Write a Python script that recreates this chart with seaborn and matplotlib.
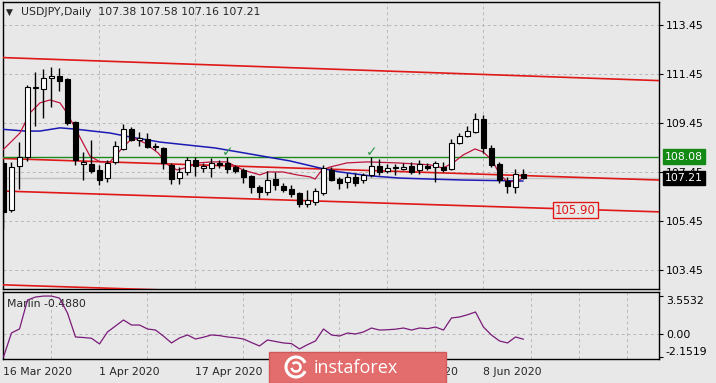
"""USDJPY daily candles with MA lines, channel and the Marlin oscillator panel."""

import matplotlib
matplotlib.use("Agg")
import matplotlib.pyplot as plt
import matplotlib.patches as mpatches
import numpy as np
import seaborn as sns

# ---- data --------------------------------------------------------------
opens = [107.82, 105.90, 107.69, 108.06, 110.87, 110.84, 111.29, 111.37, 111.25, 109.49,
         107.78, 107.78, 107.53, 107.20, 107.86, 108.39, 109.20, 108.76, 108.80, 108.51,
         108.43, 107.74, 107.20, 107.45, 107.94, 107.61, 107.61, 107.82, 107.82, 107.65,
         107.53, 107.29, 106.84, 106.63, 107.16, 106.88, 106.76, 106.59, 106.14, 106.22,
         106.59, 107.53, 107.16, 107.04, 107.25, 107.12, 107.33, 107.69, 107.49, 107.61,
         107.57, 107.69, 107.53, 107.69, 107.65, 107.65, 107.57, 108.63, 108.92, 109.08,
         109.61, 108.43, 107.78, 107.08, 106.84, 107.38]
highs = [107.95, 107.85, 108.67, 111.00, 111.53, 111.65, 111.73, 111.69, 111.30, 109.55,
         108.27, 108.76, 107.74, 107.94, 108.70, 109.41, 109.29, 109.08, 109.04, 108.63,
         108.47, 107.82, 107.65, 108.06, 108.06, 107.82, 108.00, 107.94, 108.06, 107.74,
         107.61, 107.33, 106.92, 107.49, 107.45, 107.00, 106.92, 106.63, 106.72, 106.80,
         107.74, 107.65, 107.25, 107.41, 107.41, 107.41, 108.06, 107.98, 107.78, 107.78,
         107.82, 107.86, 107.94, 107.82, 107.90, 107.86, 108.80, 109.04, 109.33, 109.86,
         109.78, 108.55, 107.86, 107.25, 107.57, 107.58]
lows = [105.10, 105.80, 106.76, 107.90, 109.33, 109.65, 110.10, 110.76, 109.37, 107.74,
        107.12, 107.41, 106.92, 107.04, 107.78, 108.35, 108.70, 108.51, 108.43, 108.35,
        107.57, 106.96, 106.96, 107.33, 107.29, 107.45, 107.25, 107.61, 107.41, 107.41,
        107.00, 106.60, 106.39, 106.51, 106.72, 106.63, 106.43, 106.02, 106.02, 106.10,
        106.50, 107.10, 106.76, 106.80, 106.88, 107.00, 107.25, 107.33, 107.41, 107.33,
        107.53, 107.37, 107.37, 107.53, 107.04, 107.45, 107.53, 108.59, 108.88, 109.04,
        108.22, 107.65, 107.00, 106.59, 106.59, 107.16]
closes = [105.80, 107.65, 108.06, 110.92, 110.92, 111.29, 111.37, 111.16, 109.45, 107.94,
          107.86, 107.49, 107.12, 107.82, 108.51, 109.20, 108.76, 108.85, 108.47, 108.47,
          107.82, 107.16, 107.45, 107.94, 107.69, 107.69, 107.82, 107.74, 107.57, 107.49,
          107.25, 106.84, 106.63, 107.12, 106.92, 106.72, 106.55, 106.14, 106.31, 106.67,
          107.61, 107.12, 107.00, 107.25, 107.00, 107.33, 107.69, 107.45, 107.61, 107.65,
          107.65, 107.45, 107.78, 107.61, 107.82, 107.53, 108.63, 108.92, 109.12, 109.61,
          108.43, 107.74, 107.12, 106.88, 107.37, 107.21]

# fast MA (crimson) and slow MA (blue) as traced vertices: bar position, price
fast_ma_x = [-0.44, 2.06, 3.31, 4.56, 5.81, 7.06, 7.94, 8.94, 9.94, 10.81, 12.06, 13.31,
             15.19, 16.19, 17.69, 19.31, 20.56, 21.69, 23.06, 24.31, 26.06, 27.94, 29.94,
             32.06, 33.06, 34.94, 36.69, 38.31, 38.94, 39.81, 40.81, 42.94, 45.44, 49.19,
             53.31, 54.94, 56.19, 57.44, 58.94, 59.94, 61.06, 62.06, 63.06, 64.19, 64.94]
fast_ma_y = [108.23, 109.04, 109.86, 110.27, 110.39, 110.27, 109.86, 109.25, 108.63, 108.10,
             107.86, 107.86, 108.55, 108.84, 108.63, 108.23, 107.74, 107.53, 107.65, 107.82,
             107.86, 107.86, 107.53, 107.33, 107.45, 107.45, 107.33, 107.25, 107.16, 107.53,
             107.65, 107.82, 107.86, 107.82, 107.74, 107.61, 107.82, 108.14, 108.39, 108.27,
             107.94, 107.33, 107.04, 107.08, 107.21]
slow_ma_x = [-0.44, 2.69, 4.56, 7.06, 8.94, 13.31, 15.81, 19.56, 26.44, 30.19, 35.81, 39.56,
             42.06, 45.81, 49.56, 53.31, 57.44, 64.94]
slow_ma_y = [109.20, 109.12, 109.12, 109.25, 109.20, 109.04, 108.88, 108.67, 108.43, 108.22,
             107.90, 107.61, 107.45, 107.29, 107.20, 107.16, 107.12, 107.08]

# channel lines: price at the left edge and at the right edge of the panel
channel_left = [112.12, 108.00, 106.67, 102.84]
channel_right = [111.18, 107.12, 105.82, 101.98]
channel_label = "105.90"
level_price = 108.08
last_price = 107.21
check_bars = [28, 46]
check_price = 108.27

marlin = [-2.15, 0.10, 0.47, 3.18, 3.46, 3.55, 3.55, 3.36, 1.96, -0.28,
          -0.33, -0.40, -0.93, 0.19, 0.75, 1.31, 0.84, 0.84, 0.47, 0.37,
          -0.20, -0.84, -0.37, -0.09, -0.47, -0.30, -0.09, -0.15, -0.28, -0.35,
          -0.47, -0.80, -1.12, -0.56, -0.70, -0.84, -0.90, -1.40, -1.00, -0.65,
          0.47, -0.09, -0.19, 0.09, 0.00, 0.19, 0.56, 0.37, 0.40, 0.45,
          0.56, 0.37, 0.56, 0.50, 0.65, 0.37, 1.50, 1.59, 1.80, 2.06,
          0.65, -0.10, -0.65, -0.84, -0.28, -0.488]
marlin_ticks = [3.5532, 0.0, -2.1519]
marlin_tick_labels = ["3.5532", "0.00", "-2.1519"]

price_ticks = [113.45, 111.45, 109.45, 107.45, 105.45, 103.45]
# the 5 May label sits fully under the watermark in the reference, so it is left out
date_bars = [0, 12, 24, 48, 60]
date_labels = ["16 Mar 2020", "1 Apr 2020", "17 Apr 2020", "21 May 2020", "8 Jun 2020"]

# ---- style ---------------------------------------------------------------
BG = "#E8E8E8"
sns.set_style("white", {"axes.facecolor": BG, "figure.facecolor": BG})
plt.rcParams["font.family"] = ["DejaVu Sans"]
plt.rcParams["font.size"] = 7.8

W, H = 716, 383
fig = plt.figure(figsize=(W / 100, H / 100), dpi=100)
ax = fig.add_axes([3 / W, (H - 289) / H, 656 / W, 287 / H])
ax2 = fig.add_axes([3 / W, (H - 359) / H, 656 / W, 67 / H], sharex=ax)

xmin, xmax = -0.0625, 81.94
bars = np.arange(len(opens))

for a in (ax, ax2):
    a.set_facecolor(BG)
    for s in a.spines.values():
        s.set_color("black")
        s.set_linewidth(1.0)
    a.yaxis.tick_right()
    a.tick_params(axis="y", length=3, width=0.8, pad=2, labelsize=7.8, colors="black")

# ---- main panel ----------------------------------------------------------
ax.set_xlim(xmin, xmax)
ax.set_ylim(102.67, 114.39)
ax.set_xticks(range(0, 84, 6))
ax.tick_params(axis="x", length=0, labelbottom=False)
ax.set_yticks(price_ticks, labels=[f"{p:.2f}" for p in price_ticks])
ax.grid(True, color="#B8B8B8", linestyle=(0, (3, 3)), linewidth=0.7)

# channel lines
for pl, pr in zip(channel_left, channel_right):
    ax.plot([xmin, xmax], [pl, pr], color="#E01818", lw=1.2, zorder=3)
ax.text(71.5, 105.89, channel_label, color="#E01818", fontsize=8.5, ha="center", va="center",
        zorder=6, bbox=dict(boxstyle="square,pad=0.15", fc=BG, ec="#E01818", lw=1.0))

ax.axhline(last_price, color="#C4C4C4", lw=1.0, zorder=2)
ax.axhline(level_price, color="#1E8A1E", lw=1.0, zorder=3)

sns.lineplot(x=slow_ma_x, y=slow_ma_y, ax=ax, sort=False, estimator=None,
             color="#1A1AB4", lw=1.1, zorder=4)
sns.lineplot(x=fast_ma_x, y=fast_ma_y, ax=ax, sort=False, estimator=None,
             color="#C0143C", lw=0.9, zorder=4)

# candles
o = np.array(opens); c = np.array(closes)
bull = c >= o
ax.vlines(bars, lows, highs, color="black", lw=1.0, zorder=5)
ax.bar(bars, np.abs(c - o), bottom=np.minimum(o, c), width=0.62,
       color=np.where(bull, "white", "black"), edgecolor="black", linewidth=0.8, zorder=5)

for b in check_bars:
    ax.text(b, check_price, "\u2713", color="#2E9A4A", fontsize=10, ha="center", va="center",
            zorder=6, fontweight="bold")

# right-axis price boxes
ax.text(1.0095, level_price, f"{level_price:.2f}", transform=ax.get_yaxis_transform(),
        color="white", fontsize=7.8, ha="left", va="center", clip_on=False, zorder=10,
        bbox=dict(boxstyle="square,pad=0.2", fc="#138A13", ec="#138A13"))
ax.text(1.0095, last_price, f"{last_price:.2f}", transform=ax.get_yaxis_transform(),
        color="white", fontsize=7.8, ha="left", va="center", clip_on=False, zorder=10,
        bbox=dict(boxstyle="square,pad=0.2", fc="black", ec="black"))

ax.text(0.004, 0.965, "\u25BC", transform=ax.transAxes, fontsize=6.5, va="center", ha="left")
ax.text(0.027, 0.965, f"USDJPY,Daily  {opens[-1]:.2f} {highs[-1]:.2f} {lows[-1]:.2f} {closes[-1]:.2f}",
        transform=ax.transAxes, fontsize=7.8, va="center", ha="left")
ax.set_xlabel(""); ax.set_ylabel("")

# ---- Marlin panel -----------------------------------------------------
ax2.set_ylim(-2.34, 3.93)
ax2.set_xticks(range(0, 84, 6), minor=True)
ax2.set_xticks(date_bars, labels=date_labels)
ax2.grid(True, which="minor", axis="x", color="#B8B8B8", linestyle=(0, (3, 3)), linewidth=0.7)
ax2.axhline(0, color="#B8B8B8", linestyle=(0, (3, 3)), linewidth=0.7, zorder=1)
ax2.tick_params(axis="x", which="major", length=3, width=0.8, pad=3, labelsize=7.8)
ax2.tick_params(axis="x", which="minor", length=0)
for lbl in ax2.get_xticklabels():
    lbl.set_horizontalalignment("left")
ax2.set_yticks(marlin_ticks, labels=marlin_tick_labels)
ylabels = ax2.get_yticklabels()
ylabels[0].set_verticalalignment("top")
ylabels[2].set_verticalalignment("bottom")

sns.lineplot(x=bars, y=marlin, ax=ax2, color="#7A1A7A", lw=0.9, zorder=4)
ax2.text(0.006, 0.82, f"Marlin {marlin[-1]:.4f}", transform=ax2.transAxes, fontsize=7.8,
         va="center", ha="left")
ax2.set_xlabel(""); ax2.set_ylabel("")

# ---- watermark -------------------------------------------------------------
fig.patches.append(mpatches.Rectangle((269 / W, 0), 177 / W, 31 / H, transform=fig.transFigure,
                                      fc="#E36C6C", ec="#D05A5A", lw=1.0, zorder=20))
fig.patches.append(mpatches.Arc((296 / W, 1 - 367 / H), 20 / W, 20 / H, theta1=40, theta2=320,
                                transform=fig.transFigure, color="white", lw=2.2, zorder=21))
fig.patches.append(mpatches.Arc((296 / W, 1 - 367 / H), 9 / W, 9 / H, theta1=200, theta2=120,
                                transform=fig.transFigure, color="white", lw=1.8, zorder=21))
fig.text(314 / W, 1 - 368 / H, "instaforex", color="white", fontsize=13, ha="left", va="center",
         family=["Open Sans", "DejaVu Sans"], zorder=22)

fig.savefig("out.png", dpi=100, facecolor=BG)
